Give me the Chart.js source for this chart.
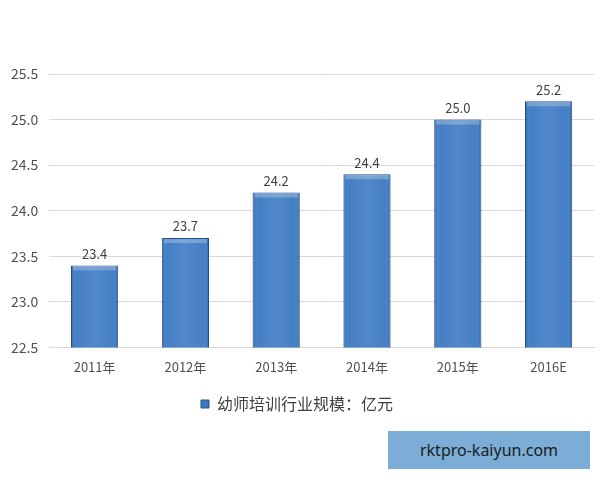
<!DOCTYPE html>
<html>
<head>
<meta charset="utf-8">
<script src="https://cdn.jsdelivr.net/npm/chart.js@4/dist/chart.umd.min.js"></script>
<style>
  html, body { margin: 0; padding: 0; background: #fff; }
  #wrap { position: relative; width: 600px; height: 480px; }
  #mark {
    position: absolute; left: 388px; top: 431px; width: 202px; height: 38px;
    background: #7badd6; color: #1c1c1c; font: 16px "Noto Sans", sans-serif;
    line-height: 38px; text-align: center;
  }
</style>
</head>
<body>
<div id="wrap">
  <canvas id="chart" width="600" height="480"></canvas>
  <div id="mark">rktpro-kaiyun.com</div>
</div>
<script>
const categories = ['2011年', '2012年', '2013年', '2014年', '2015年', '2016E'];
const values = [23.4, 23.7, 24.2, 24.4, 25.0, 25.2];
const seriesName = '幼师培训行业规模：亿元';
const yMin = 22.5;
const yMax = 25.5;
const yStep = 0.5;

const font = '"Noto Sans CJK SC", "Noto Sans", sans-serif';

// shade each bar left/right so it looks a bit rounded
const barShade = {
  id: 'barShade',
  afterDatasetsDraw(chart) {
    const ctx = chart.ctx;
    const base = chart.scales.y.getPixelForValue(yMin);
    chart.getDatasetMeta(0).data.forEach((bar) => {
      const { x, y, width } = bar.getProps(['x', 'y', 'width'], true);
      const left = x - width / 2;
      const g = ctx.createLinearGradient(left, 0, left + width, 0);
      g.addColorStop(0, 'rgba(20,50,100,0.35)');
      g.addColorStop(0.12, 'rgba(255,255,255,0.05)');
      g.addColorStop(0.5, 'rgba(255,255,255,0.12)');
      g.addColorStop(0.88, 'rgba(255,255,255,0.05)');
      g.addColorStop(1, 'rgba(20,50,100,0.35)');
      ctx.save();
      ctx.fillStyle = g;
      ctx.fillRect(left + 1, y + 1, width - 2, base - y - 1);
      ctx.fillStyle = 'rgba(255,255,255,0.25)';
      ctx.fillRect(left + 2, y + 1, width - 4, 4);
      ctx.restore();
    });
  }
};

const valueLabels = {
  id: 'valueLabels',
  afterDatasetsDraw(chart) {
    const ctx = chart.ctx;
    ctx.save();
    ctx.font = '13px ' + font;
    ctx.fillStyle = '#404040';
    ctx.textAlign = 'center';
    ctx.textBaseline = 'bottom';
    chart.getDatasetMeta(0).data.forEach((bar, i) => {
      ctx.fillText(values[i].toFixed(1), bar.x, bar.y - 5);
    });
    ctx.restore();
  }
};

new Chart(document.getElementById('chart'), {
  type: 'bar',
  data: {
    labels: categories,
    datasets: [{
      label: seriesName,
      data: values,
      backgroundColor: '#3a78c2',
      borderColor: '#24508a',
      borderWidth: 1,
      barPercentage: 0.52,
      categoryPercentage: 1
    }]
  },
  options: {
    responsive: false,
    animation: false,
    layout: { padding: { top: 74, left: 0, right: 6, bottom: 58 } },
    plugins: {
      tooltip: { enabled: false },
      legend: {
        position: 'bottom',
        labels: {
          boxWidth: 8,
          boxHeight: 8,
          padding: 17,
          color: '#404040',
          font: { family: font, size: 16 }
        }
      }
    },
    scales: {
      x: {
        grid: { display: false },
        border: { color: '#d9d9d9' },
        ticks: { color: '#505050', font: { family: font, size: 13 }, padding: 4 }
      },
      y: {
        min: yMin,
        max: yMax,
        ticks: {
          stepSize: yStep,
          color: '#505050',
          padding: 11,
          font: { family: font, size: 14 },
          callback: (v) => Number(v).toFixed(1)
        },
        grid: { color: '#d9d9d9', drawTicks: false },
        border: { display: false }
      }
    }
  },
  plugins: [barShade, valueLabels]
});
</script>
</body>
</html>
